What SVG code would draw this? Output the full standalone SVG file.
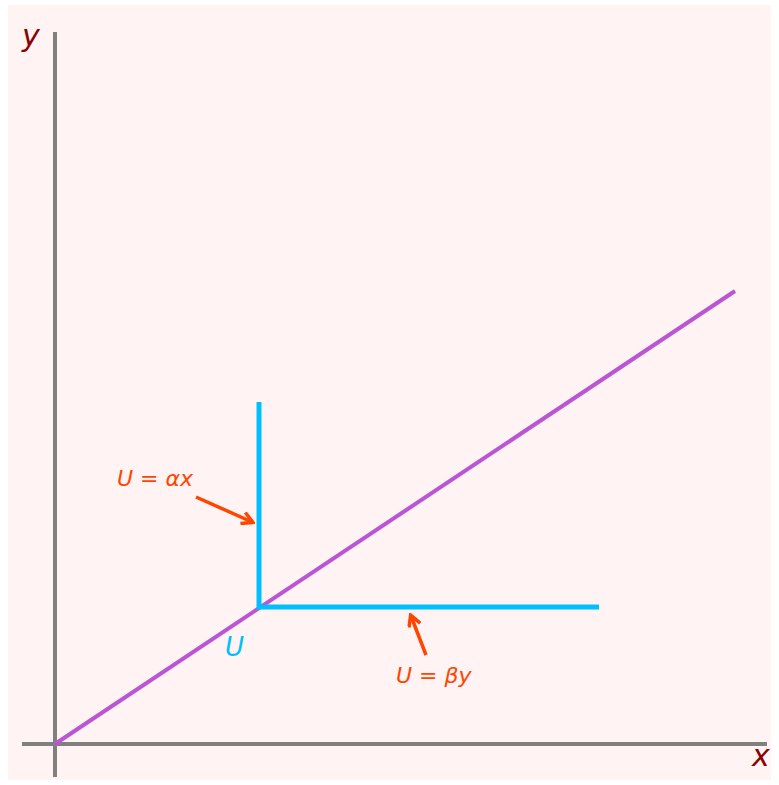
<svg xmlns="http://www.w3.org/2000/svg" width="779" height="785" viewBox="0 0 779 785">
<style>
.axis{stroke:#808080;stroke-width:4;fill:none}
.lbl{font-family:"DejaVu Sans",sans-serif;font-style:italic}
.ax{fill:#8b0000;font-size:30px}
.eq{fill:#ff4500;font-size:22px}
.arr{stroke:#ff4500;stroke-width:3.5;fill:none;marker-end:url(#ah)}
.blue{stroke:#00bfff;stroke-width:5;fill:none}
</style>
<defs>
<marker id="ah" markerWidth="14" markerHeight="14" refX="11" refY="7" orient="auto" markerUnits="userSpaceOnUse" viewBox="0 0 14 14">
<path d="M1,1 L12,7 L1,13" fill="none" stroke="#ff4500" stroke-width="3.5" stroke-linejoin="miter"/>
</marker>
</defs>
<rect x="8" y="5" width="763" height="775" fill="#fff3f3"/>
<g id="axes">
<line class="axis" x1="55" y1="32" x2="55" y2="777"/>
<line class="axis" x1="22" y1="744" x2="767" y2="744"/>
<text class="lbl ax" x="22" y="46">y</text>
<text class="lbl ax" x="752" y="766">x</text>
</g>
<g id="budget-line">
<line x1="55" y1="744" x2="735" y2="291" stroke="#ba55d3" stroke-width="4"/>
</g>
<g id="indifference">
<polyline class="blue" points="259,402 259,607 599,607"/>
<text class="lbl" x="225" y="656" font-size="26" fill="#00bfff">U</text>
</g>
<g id="connectors">
<line class="arr" x1="196" y1="497" x2="252" y2="522"/>
<line class="arr" x1="426" y1="655" x2="411" y2="616"/>
</g>
<g id="label-alpha">
<text class="lbl eq" x="117" y="486">U = αx</text>
</g>
<g id="label-beta">
<text class="lbl eq" x="396" y="683">U = βy</text>
</g>
</svg>
